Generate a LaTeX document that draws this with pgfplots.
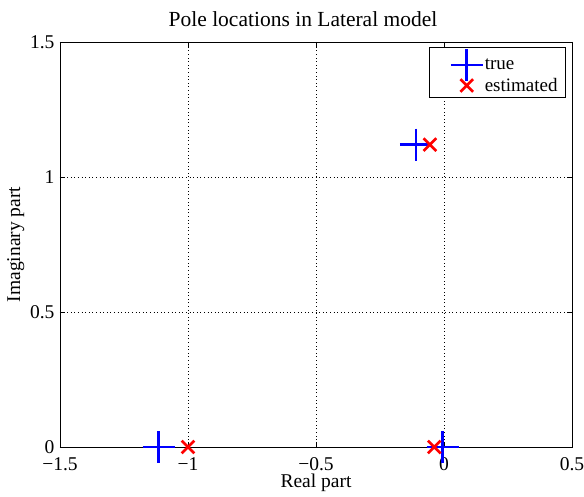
\documentclass[border=0pt]{standalone}
\usepackage{pgfplots}
\pgfplotsset{compat=1.18}
\usepackage{fontspec}
\setmainfont{Liberation Serif}
\newcommand{\bigf}{\fontsize{19.5}{22}\selectfont}
\begin{document}
\begin{tikzpicture}[font=\bigf]
\begin{axis}[
  scale only axis,
  width=512pt, height=405pt,
  xmin=-1.5, xmax=0.5, ymin=0, ymax=1.5,
  xtick={-1.5,-1,-0.5,0,0.5},
  xticklabels={−1.5,−1,−0.5,0,0.5},
  ytick={0,0.5,1,1.5},
  yticklabels={0,0.5,1,1.5},
  tick label style={font=\bigf},
  xticklabel style={yshift=-7pt},
  yticklabel style={xshift=-2pt},
  tick align=inside,
  major tick length=5pt,
  tick style={black, line width=0.5pt},
  axis line style={line width=0.6pt},
  grid=major,
  major grid style={black, line width=0.5pt, dash pattern=on 0.6pt off 3pt},
  clip=false,
  title={Pole locations in Lateral model},
  title style={font=\fontsize{21.5}{24}\selectfont, yshift=6pt, xshift=-13pt},
  xlabel={Real part},
  ylabel={Imaginary part},
  label style={font=\bigf},
  xlabel style={yshift=4pt},
  ylabel style={yshift=-1pt},
  legend style={draw=black, line width=0.6pt, font=\fontsize{19}{21}\selectfont, row sep=-5pt, inner xsep=6pt, inner ysep=2pt, at={(0.988,0.988)}, anchor=north east,
    /tikz/every even column/.append style={column sep=15pt}},
  legend cell align=left,
  legend image code/.code={\path[draw=none] (0pt,0pt) -- (47pt,0pt); \draw[#1] plot coordinates {(31pt,0pt)};},
]
\addplot[only marks, blue, mark=+, mark size=16pt, line width=2.6pt] coordinates {
  (-1.115,0) (-0.11,1.12) (-0.005,0)
};
\addlegendentry{true}
\addplot[only marks, red, mark=x, mark size=9pt, line width=2.6pt] coordinates {
  (-1.0,0) (-0.055,1.12) (-0.038,0)
};
\addlegendentry{estimated}
\end{axis}
\pgfresetboundingbox
\path[use as bounding box] ([xshift=-60pt,yshift=-49pt]current axis.south west) rectangle ([xshift=12pt,yshift=42pt]current axis.north east);
\end{tikzpicture}
\end{document}
